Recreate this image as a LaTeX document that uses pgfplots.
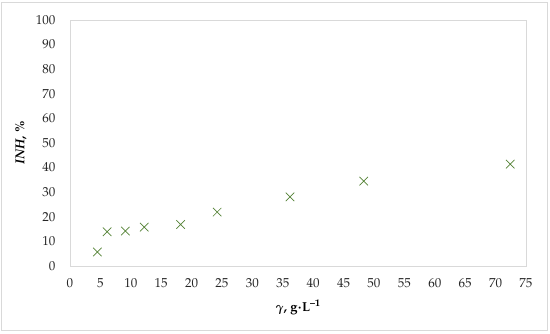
\documentclass[border=0pt]{standalone}
\usepackage[T1]{fontenc}
\usepackage{mathpazo}
\usepackage{bm}
\usepackage{pgfplots}
\pgfplotsset{compat=1.18}
\definecolor{mk}{RGB}{84,130,53}
\definecolor{fr}{RGB}{217,217,217}
\begin{document}
\begin{tikzpicture}[x=1pt,y=1pt]
\useasboundingbox (-70,-68) rectangle (480,266);
\fill[white] (-70,-68) rectangle (480,266);
\draw[fr, line width=1pt] (-68,-65) rectangle (477,263);
\begin{axis}[
  at={(0,0)}, anchor=south west,
  scale only axis, width=456pt, height=246pt,
  xmin=0, xmax=75, ymin=0, ymax=100,
  xtick={0,5,...,75}, ytick={0,10,...,100},
  axis line style={fr, line width=0.8pt},
  major tick style={draw=none},
  tick label style={font=\fontsize{13}{15}\selectfont, text=black!85},
  /pgf/number format/assume math mode=true,
  yticklabel style={xshift=-11pt},
  xticklabel style={yshift=-9pt},
  xlabel={\textbf{$\bm{\gamma}$, g$\bm{\cdot}$L\textsuperscript{--1}}},
  ylabel={\textbf{\textit{INH}, \%}},
  label style={font=\fontsize{13}{15}\selectfont},
  xlabel style={at={(axis description cs:0.5,-0.167)}, anchor=center},
  ylabel style={at={(axis description cs:-0.1075,0.5)}, anchor=center, rotate=0},
]
\addplot[only marks, mark=x, mark size=6pt, mark options={mk, line width=0.7pt}] coordinates {
(4.5,5.7) (6.1,13.9) (9.1,14.2) (12.2,15.8) (18.2,16.9) (24.2,21.9) (36.2,28.1) (48.3,34.5) (72.4,41.4)
};
\end{axis}
\end{tikzpicture}
\end{document}
